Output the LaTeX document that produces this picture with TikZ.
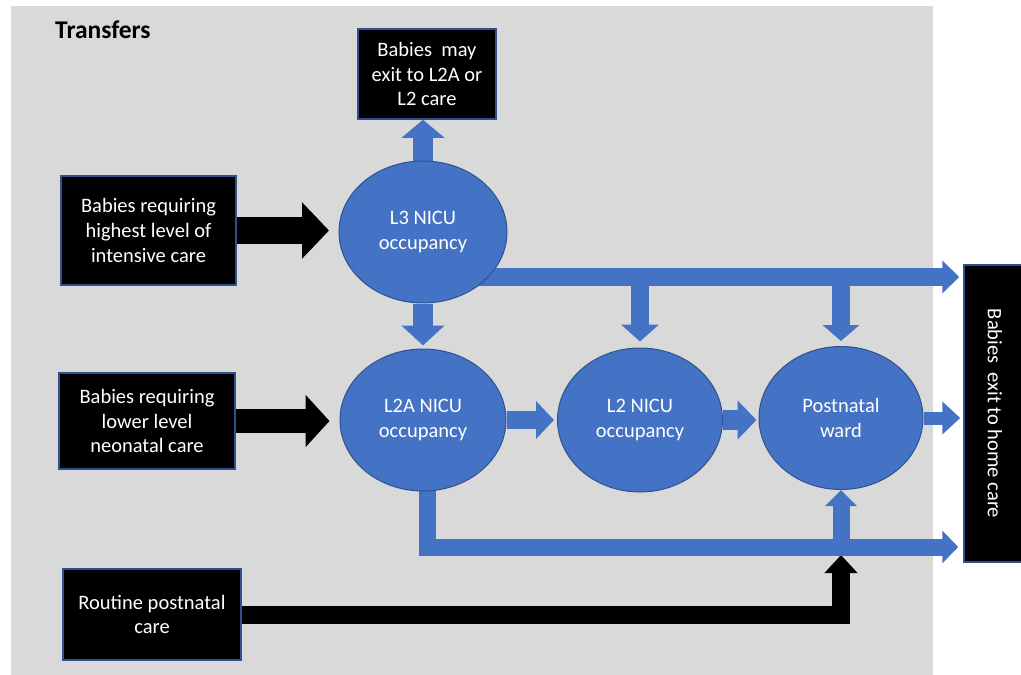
\documentclass[tikz,border=0pt]{standalone}
\usepackage{fontspec}
\setmainfont{Carlito}
\usetikzlibrary{arrows.meta,shapes.geometric}
\definecolor{bggray}{HTML}{D9D9D9}
\definecolor{ublue}{HTML}{4472C4}
\definecolor{dblue}{HTML}{2F528F}
\pgfdeclarelayer{back}
\pgfdeclarelayer{arrowlayer}
\pgfsetlayers{back,arrowlayer,main}
\begin{document}
\begin{tikzpicture}[x=1pt,y=-1pt,
  txt/.style={font=\fontsize{20.5}{24.8}\selectfont},
  box/.style={draw=dblue, line width=1.5pt, fill=black, text=white, align=center, inner sep=0pt, txt},
  oval/.style={ellipse, draw=dblue, line width=1pt, fill=ublue, text=white, align=center, inner sep=0pt, txt},
  fat/.style n args={4}{draw=#1, line width=#2, -{Triangle[length=#3, width=#4]}},
]
\useasboundingbox (0,0) rectangle (1021,675);
\begin{pgfonlayer}{back}
  \fill[bggray] (11,6) rectangle (933,675);
\end{pgfonlayer}

\node[font=\bfseries\fontsize{25.5}{30}\selectfont, anchor=west, inner sep=0pt] (title) at (55,30) {Transfers};

\node[box, minimum width=138pt, minimum height=90pt] (top) at (427,74) {Babies~ may\\exit to L2A or\\L2 care};
\node[box, minimum width=175pt, minimum height=109pt] (b1) at (148.5,230.5) {Babies requiring\\highest level of\\intensive care};
\node[box, minimum width=176pt, minimum height=96pt] (b2) at (147,421) {Babies requiring\\lower level\\neonatal care};
\node[box, minimum width=178pt, minimum height=91pt] (b3) at (152,614.5) {Routine postnatal\\care};
\node[box, rotate=-90, minimum width=297pt, minimum height=62pt] (exit) at (995,413.5) {Babies~ exit to home care};

\node[oval, minimum width=168pt, minimum height=142pt] (L3) at (423,232) {L3 NICU\\occupancy};
\node[oval, minimum width=166pt, minimum height=142pt] (L2A) at (423,420) {L2A NICU\\occupancy};
\node[oval, minimum width=165pt, minimum height=144pt] (L2) at (640,420) {L2 NICU\\occupancy};
\node[oval, minimum width=164pt, minimum height=143pt] (post) at (841,418) {Postnatal\\ward};

\coordinate (h3s) at ([yshift=-45pt]L3.center);
\coordinate (h2y) at (0,547);
\coordinate (h2b) at (0,555);

\begin{pgfonlayer}{arrowlayer}
  % black inflows
  \draw[fat={black}{27pt}{27pt}{55pt}, shorten >=9.5pt] (b1.east) -- (b1.east -| L3.west);
  \draw[fat={black}{24pt}{24pt}{51pt}, shorten >=10pt] (b2.east) -- (b2.east -| L2A.west);
  \draw[fat={black}{18pt}{18pt}{32pt}] (b3.east) -| (post.south |- h2b);
  % L3 exits
  \draw[fat={ublue}{20pt}{18pt}{42pt}] (L3.north) -- (L3.north |- top.south);
  \draw[fat={ublue}{20pt}{20pt}{42pt}, shorten >=3pt] (L3.south) -- (L2A.north);
  \draw[fat={ublue}{18pt}{17pt}{32pt}, shorten >=4pt] (h3s) -- (h3s -| exit.south);
  \draw[fat={ublue}{18pt}{17pt}{37pt}, shorten >=6pt] (h3s -| L2.north) -- (L2.north);
  \draw[fat={ublue}{18pt}{16pt}{36pt}, shorten >=5pt] (h3s -| post.north) -- (post.north);
  % chain
  \draw[fat={ublue}{18pt}{18pt}{37pt}, shorten >=3pt] (L2A.east) -- (L2.west);
  \draw[fat={ublue}{20pt}{19pt}{38pt}, shorten >=2pt] (L2.east) -- (L2.east -| post.west);
  \draw[fat={ublue}{13pt}{18pt}{32pt}, shorten >=3pt] (post.east) -- (post.east -| exit.south);
  % L2A elbow
  \draw[fat={ublue}{17pt}{16pt}{32pt}, shorten >=5pt] ([xshift=4pt]L2A.center) |- (h2y -| exit.south);
  \draw[fat={ublue}{17pt}{16pt}{31pt}] (post.south |- h2y) -- (post.south);
\end{pgfonlayer}
\end{tikzpicture}
\end{document}
